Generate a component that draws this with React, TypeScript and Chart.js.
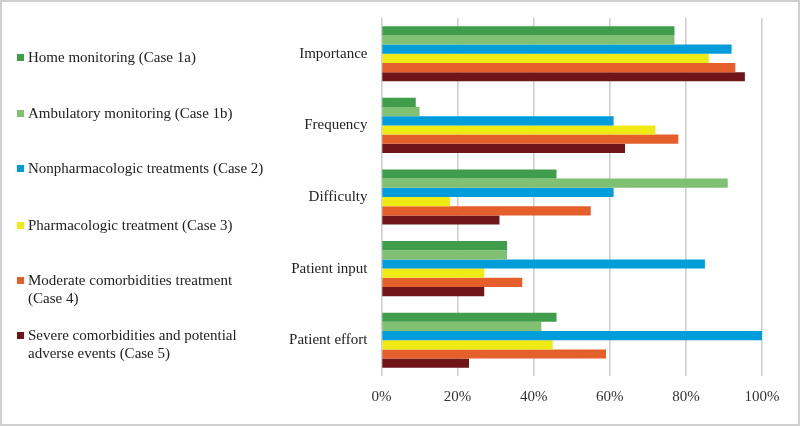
import React, { useEffect, useRef } from "react";
import Chart from "chart.js/auto";

const categories = ["Importance", "Frequency", "Difficulty", "Patient input", "Patient effort"];
const seriesNames = [
  "Home monitoring (Case 1a)",
  "Ambulatory monitoring (Case 1b)",
  "Nonpharmacologic treatments (Case 2)",
  "Pharmacologic treatment (Case 3)",
  "Moderate comorbidities treatment (Case 4)",
  "Severe comorbidities and potential adverse events (Case 5)",
];
const legendLines = [
  ["Home monitoring (Case 1a)"],
  ["Ambulatory monitoring (Case 1b)"],
  ["Nonpharmacologic treatments (Case 2)"],
  ["Pharmacologic treatment (Case 3)"],
  ["Moderate comorbidities treatment", "(Case 4)"],
  ["Severe comorbidities and potential", "adverse events (Case 5)"],
];
const homeMonitoring = [77, 9, 46, 33, 46];
const ambulatoryMonitoring = [77, 10, 91, 33, 42];
const nonpharmacologic = [92, 61, 61, 85, 100];
const pharmacologic = [86, 72, 18, 27, 45];
const moderateComorbidities = [93, 78, 55, 37, 59];
const severeComorbidities = [95.5, 64, 31, 27, 23];
const seriesValues = [
  homeMonitoring,
  ambulatoryMonitoring,
  nonpharmacologic,
  pharmacologic,
  moderateComorbidities,
  severeComorbidities,
];
const colors = ["#409d4b", "#80c073", "#009dda", "#f0ea14", "#e55f2b", "#701518"];
const xTicks = [0, 20, 40, 60, 80, 100];

const FONT = "'Liberation Serif', 'Times New Roman', serif";
const legendTops = [48, 104, 159, 216, 271, 326];

export default function App() {
  const ref = useRef<HTMLCanvasElement | null>(null);
  useEffect(() => {
    if (!ref.current) return;
    const chart = new Chart(ref.current, {
      type: "bar",
      data: {
        labels: categories,
        datasets: seriesValues.map((vals, i) => ({
          label: seriesNames[i],
          data: vals,
          backgroundColor: colors[i],
          borderWidth: 0,
          barPercentage: 1,
          categoryPercentage: 0.77,
        })),
      },
      options: {
        indexAxis: "y",
        responsive: false,
        animation: false,
        layout: { padding: { left: 0, right: 38, top: 18, bottom: 0 } },
        plugins: { legend: { display: false }, tooltip: { enabled: false } },
        scales: {
          x: {
            min: 0,
            max: 100,
            afterBuildTicks: (scale: any) => {
              scale.ticks = xTicks.map((v) => ({ value: v }));
            },
            afterFit: (scale: any) => {
              scale.height = 50;
            },
            ticks: {
              callback: (v: any) => v + "%",
              color: "#333",
              font: { family: FONT, size: 15 },
              padding: 12,
              maxRotation: 0,
            },
            grid: { color: "#cfcfcf", lineWidth: 1.6, drawTicks: false },
            border: { display: false },
          },
          y: {
            afterFit: (scale: any) => {
              scale.width = 381.5;
              scale.paddingTop = 0;
              scale.paddingBottom = 0;
            },
            ticks: {
              color: "#222",
              font: { family: FONT, size: 15 },
              padding: 14,
            },
            grid: { display: false, drawTicks: false },
            border: { display: false },
          },
        },
      },
    });
    return () => chart.destroy();
  }, []);

  return (
    <div style={{ position: "fixed", left: 0, top: 0, width: 800, height: 426, background: "#fff" }}>
      <canvas ref={ref} width={800} height={426} style={{ position: "absolute", left: 0, top: 0 }} />
      {legendLines.map((lines, i) => (
        <div key={i} style={{ position: "absolute", left: 0, top: legendTops[i] }}>
          <div
            style={{
              position: "absolute",
              left: 17,
              top: 5.5,
              width: 7,
              height: 7,
              background: colors[i],
            }}
          />
          <div
            style={{
              position: "absolute",
              left: 28,
              top: 0,
              whiteSpace: "nowrap",
              fontFamily: FONT,
              fontSize: 15,
              lineHeight: "18px",
              color: "#222",
            }}
          >
            {lines.map((l, j) => (
              <div key={j}>{l}</div>
            ))}
          </div>
        </div>
      ))}
      <div
        style={{
          position: "absolute",
          left: 0,
          top: 0,
          width: 800,
          height: 426,
          boxSizing: "border-box",
          border: "2px solid #d0d0d0",
          pointerEvents: "none",
        }}
      />
    </div>
  );
}
